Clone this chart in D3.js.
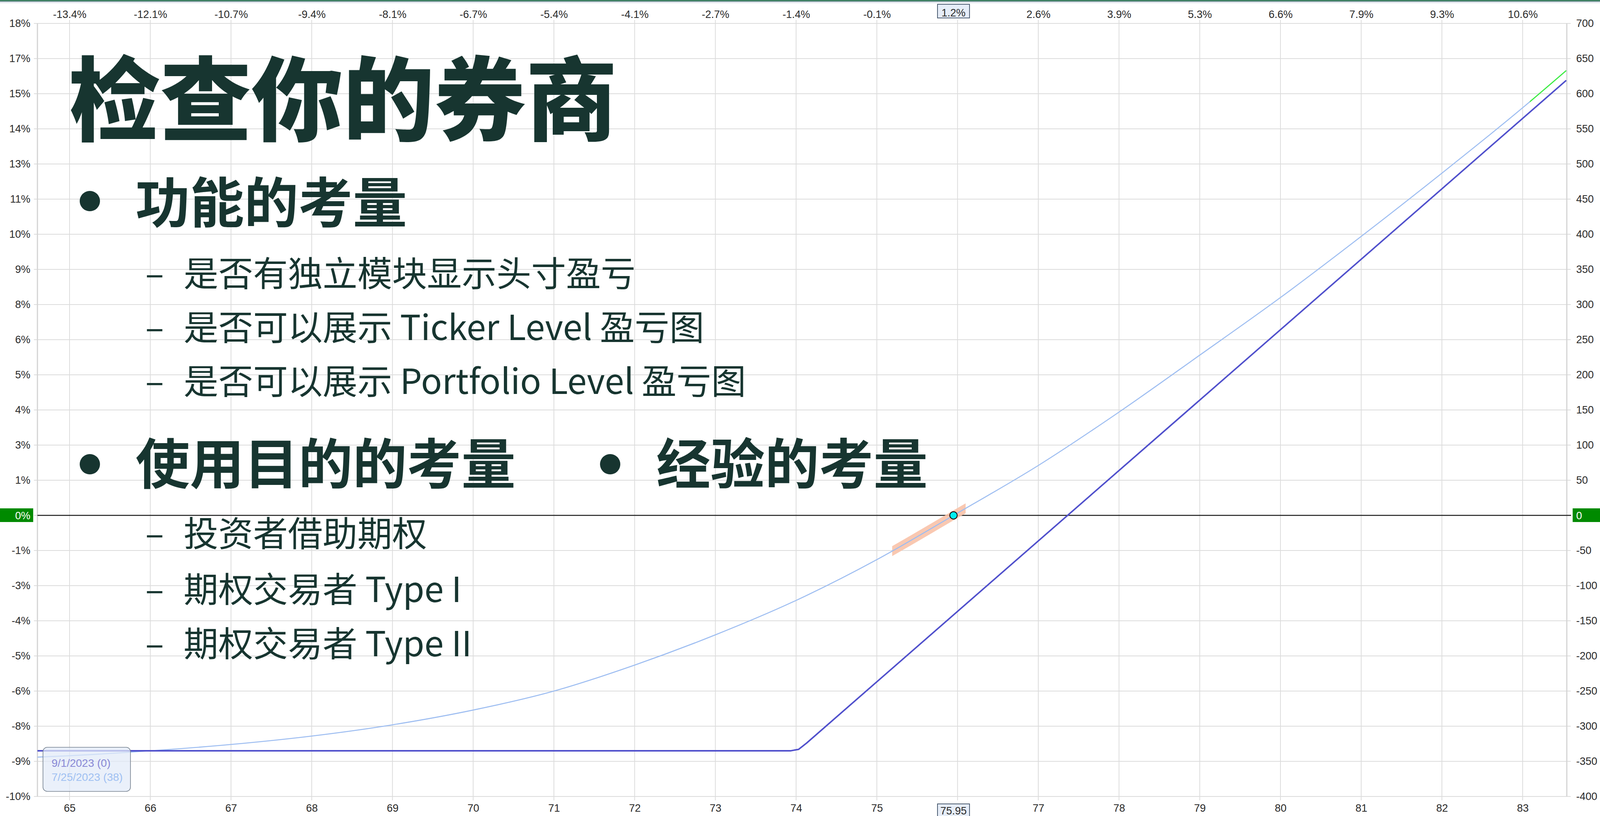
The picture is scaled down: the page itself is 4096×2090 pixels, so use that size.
<!DOCTYPE html>
<html><head><meta charset="utf-8">
<script src="https://cdn.jsdelivr.net/npm/d3@7"></script>
<style>html,body{margin:0;padding:0;background:#fff;overflow:hidden}</style>
</head><body>
<svg id="c" width="4096" height="2090"></svg>
<script>
// ---------------- data ----------------
const priceTicks = [65,66,67,68,69,70,71,72,73,74,75,76,77,78,79,80,81,82,83];
const pctChangeLabels = ["-13.4%","-12.1%","-10.7%","-9.4%","-8.1%","-6.7%","-5.4%","-4.1%","-2.7%","-1.4%","-0.1%",null,"2.6%","3.9%","5.3%","6.6%","7.9%","9.3%","10.6%"];
const priceLabels = ["65","66","67","68","69","70","71","72","73","74","75",null,"77","78","79","80","81","82","83"];
const pnlTicks = [700,650,600,550,500,450,400,350,300,250,200,150,100,50,0,-50,-100,-150,-200,-250,-300,-350,-400];
const pnlPctLabels = ["18%","17%","15%","14%","13%","11%","10%","9%","8%","6%","5%","4%","3%","1%","0%","-1%","-3%","-4%","-5%","-6%","-8%","-9%","-10%"];
const priceDomain = [64.602, 83.547];
const pnlDomain = [-400, 700];

const expiryX   = [64.6, 73.93, 74.03, 74.13, 83.54];
const expiryPnl = [-335, -335, -333, -324, 619];

const t0X   = [64.6, 65, 66, 67, 68, 69, 70, 71, 72, 73, 74, 75, 75.95, 77, 78, 79, 80, 81, 82, 83, 83.54];
const t0Pnl = [-344, -342, -335, -326, -314, -298, -277, -250, -213, -170, -121, -63, 0, 71, 147, 228, 310, 397, 487, 580, 633];

const greenFromX = 83.09;
const currentPrice = 75.95;
const currentPriceLabel = "75.95";
const currentPctLabel = "1.2%";
const highlightRange = [75.19, 76.10];
const legendLabels = ["9/1/2023 (0)", "7/25/2023 (38)"];

const titleText = "检查你的券商";
const heading1 = "功能的考量";
const sub1 = ["是否有独立模块显示头寸盈亏", "是否可以展示 Ticker Level 盈亏图", "是否可以展示 Portfolio Level 盈亏图"];
const heading2 = "使用目的的考量";
const heading3 = "经验的考量";
const sub2 = ["投资者借助期权", "期权交易者 Type I", "期权交易者 Type II"];

// ---------------- layout ----------------
const W = 4096, H = 2090;
const L = 95.8, R = 4011, T = 60.1, B = 2040;
const svg = d3.select("#c");
const x = d3.scaleLinear().domain(priceDomain).range([L, R]);
const y = d3.scaleLinear().domain(pnlDomain).range([B, T]);
const axisFont = "'Liberation Sans', Arial, sans-serif";
const cjk = "'Noto Sans CJK SC', 'Noto Sans', sans-serif";
const ink = "#173530";

svg.append("rect").attr("width", W).attr("height", H).attr("fill", "#fff");
// top band
svg.append("rect").attr("x",0).attr("y",0).attr("width",W).attr("height",3.6).attr("fill","#3b7e60");
svg.append("rect").attr("x",0).attr("y",3.6).attr("width",W).attr("height",1.8).attr("fill","#97a3b6");
svg.append("rect").attr("x",0).attr("y",5.4).attr("width",W).attr("height",3.6).attr("fill","#eef1f5");

// grid
const grid = svg.append("g");
grid.selectAll("line.h").data(pnlTicks).join("line")
  .attr("x1", L - 9).attr("x2", R + 10)
  .attr("y1", d => y(d)).attr("y2", d => y(d))
  .attr("stroke", "#dcdcdc").attr("stroke-width", 2);
grid.selectAll("line.v").data(priceTicks).join("line")
  .attr("y1", T - 9).attr("y2", B + 10)
  .attr("x1", d => x(d)).attr("x2", d => x(d))
  .attr("stroke", "#dcdcdc").attr("stroke-width", 2);
grid.append("line").attr("x1", L).attr("x2", L).attr("y1", T).attr("y2", B).attr("stroke","#d4d4d4").attr("stroke-width",3);
grid.append("line").attr("x1", R).attr("x2", R).attr("y1", T).attr("y2", B).attr("stroke","#d4d4d4").attr("stroke-width",3);

// axes labels via d3 axes
const leftAxis = d3.axisLeft(y).tickValues(pnlTicks.filter(d => d !== 0))
  .tickFormat(d => pnlPctLabels[pnlTicks.indexOf(d)]).tickSize(0).tickPadding(0);
const gL = svg.append("g").attr("transform", `translate(${L - 18},0)`).call(leftAxis);
const rightAxis = d3.axisRight(y).tickValues(pnlTicks.filter(d => d !== 0))
  .tickFormat(d => String(d)).tickSize(0).tickPadding(0);
const gR = svg.append("g").attr("transform", `translate(${R + 24},0)`).call(rightAxis);
const topAxis = d3.axisTop(x).tickValues(priceTicks.filter((d,i) => pctChangeLabels[i] !== null))
  .tickFormat(d => pctChangeLabels[priceTicks.indexOf(d)]).tickSize(0).tickPadding(0);
const gT = svg.append("g").attr("transform", `translate(0,46)`).call(topAxis);
const botAxis = d3.axisBottom(x).tickValues(priceTicks.filter((d,i) => priceLabels[i] !== null))
  .tickFormat(d => priceLabels[priceTicks.indexOf(d)]).tickSize(0).tickPadding(0);
const gB = svg.append("g").attr("transform", `translate(0,2059)`).call(botAxis);
[gL, gR, gT, gB].forEach(g => {
  g.select(".domain").remove();
  g.selectAll("text").attr("font-family", axisFont).attr("font-size", 27).attr("fill", "#2a2a2a");
});
gT.selectAll("text").attr("dy", 0);
gB.selectAll("text").attr("dy", "0.75em");

// zero line + green badges
svg.append("line").attr("x1", L).attr("x2", R + 11).attr("y1", y(0)).attr("y2", y(0))
  .attr("stroke", "#1a1a1a").attr("stroke-width", 2.5);
svg.append("rect").attr("x", 0).attr("y", y(0) - 18).attr("width", 85).attr("height", 35).attr("fill", "#008a00");
svg.append("text").attr("x", L - 18).attr("y", y(0)).attr("dy", "0.36em").attr("text-anchor", "end")
  .attr("font-family", axisFont).attr("font-size", 27).attr("fill", "#fff").text(pnlPctLabels[pnlTicks.indexOf(0)]);
svg.append("rect").attr("x", R + 15).attr("y", y(0) - 18).attr("width", W - R - 15).attr("height", 35).attr("fill", "#008a00");
svg.append("text").attr("x", R + 24).attr("y", y(0)).attr("dy", "0.36em")
  .attr("font-family", axisFont).attr("font-size", 27).attr("fill", "#fff").text("0");

// curves
const defs = svg.append("defs");
defs.append("clipPath").attr("id", "plot").append("rect").attr("x", L).attr("y", T).attr("width", R - L).attr("height", B - T);
defs.append("clipPath").attr("id", "hl").append("rect")
  .attr("x", x(highlightRange[0])).attr("y", T).attr("width", x(highlightRange[1]) - x(highlightRange[0])).attr("height", B - T);
defs.append("clipPath").attr("id", "gr").append("rect")
  .attr("x", x(greenFromX)).attr("y", T).attr("width", R - x(greenFromX)).attr("height", B - T);

const t0Data = t0X.map((v, i) => [v, t0Pnl[i]]);
const expData = expiryX.map((v, i) => [v, expiryPnl[i]]);
const lineT0 = d3.line().x(d => x(d[0])).y(d => y(d[1])).curve(d3.curveMonotoneX);
const lineExp = d3.line().x(d => x(d[0])).y(d => y(d[1])).curve(d3.curveLinear);

const plot = svg.append("g").attr("clip-path", "url(#plot)");
plot.append("path").datum(t0Data).attr("d", lineT0).attr("clip-path", "url(#hl)")
  .attr("fill", "none").attr("stroke", "#f8c2a8").attr("stroke-opacity", 0.9).attr("stroke-width", 22);
plot.append("path").datum(t0Data).attr("d", lineT0)
  .attr("fill", "none").attr("stroke", "#9dbdf1").attr("stroke-width", 2.6);
plot.append("path").datum(t0Data).attr("d", lineT0).attr("clip-path", "url(#gr)")
  .attr("fill", "none").attr("stroke", "#3cf03c").attr("stroke-width", 2.8);
plot.append("path").datum(expData).attr("d", lineExp)
  .attr("fill", "none").attr("stroke", "#5050cc").attr("stroke-width", 3.8).attr("stroke-linejoin", "round");

svg.append("circle").attr("cx", x(currentPrice)).attr("cy", y(0)).attr("r", 9.5)
  .attr("fill", "#00eef0").attr("stroke", "#111").attr("stroke-width", 2.2);

// current price badges
const bw = 82;
svg.append("rect").attr("x", x(currentPrice) - bw/2).attr("y", 11).attr("width", bw).attr("height", 35)
  .attr("fill", "#e6edf8").attr("stroke", "#4d5d72").attr("stroke-width", 2);
svg.append("text").attr("x", x(currentPrice)).attr("y", 42).attr("text-anchor", "middle")
  .attr("font-family", axisFont).attr("font-size", 27).attr("fill", "#2a2a2a").text(currentPctLabel);
svg.append("rect").attr("x", x(currentPrice) - bw/2).attr("y", 2059).attr("width", bw).attr("height", 40)
  .attr("fill", "#e6edf8").attr("stroke", "#4d5d72").attr("stroke-width", 2);
svg.append("text").attr("x", x(currentPrice)).attr("y", 2086).attr("text-anchor", "middle")
  .attr("font-family", axisFont).attr("font-size", 27).attr("fill", "#2a2a2a").text(currentPriceLabel);

// legend box
svg.append("rect").attr("x", 110).attr("y", 1914).attr("width", 224).attr("height", 113).attr("rx", 11)
  .attr("fill", "#e2eaf8").attr("fill-opacity", 0.72).attr("stroke", "#74808e").attr("stroke-width", 1.6);
svg.append("text").attr("x", 132).attr("y", 1964).attr("font-family", axisFont).attr("font-size", 28)
  .attr("fill", "#8888d6").text(legendLabels[0]);
svg.append("text").attr("x", 132).attr("y", 2000).attr("font-family", axisFont).attr("font-size", 28)
  .attr("fill", "#9fc0f2").text(legendLabels[1]);

// slide text
const txt = svg.append("g").attr("font-family", cjk).attr("fill", ink);
txt.append("text").attr("x", 176).attr("y", 342).attr("font-size", 234).attr("font-weight", 900).text(titleText);
function bullet(cx, cy) { txt.append("circle").attr("cx", cx).attr("cy", cy).attr("r", 26).attr("fill", ink); }
bullet(230, 515);
txt.append("text").attr("x", 347).attr("y", 570).attr("font-size", 139).attr("font-weight", 700).text(heading1);
const subY1 = [733, 871, 1009];
sub1.forEach((s, i) => {
  txt.append("text").attr("x", 372).attr("y", subY1[i]).attr("font-size", 89).text("–");
  txt.append("text").attr("x", 470).attr("y", subY1[i]).attr("font-size", 89).text(s);
});
bullet(230, 1189);
txt.append("text").attr("x", 347).attr("y", 1239).attr("font-size", 139).attr("font-weight", 700).text(heading2);
bullet(1562, 1189);
txt.append("text").attr("x", 1680).attr("y", 1239).attr("font-size", 139).attr("font-weight", 700).text(heading3);
const subY2 = [1399, 1542, 1681];
sub2.forEach((s, i) => {
  txt.append("text").attr("x", 372).attr("y", subY2[i]).attr("font-size", 89).text("–");
  txt.append("text").attr("x", 470).attr("y", subY2[i]).attr("font-size", 89).text(s);
});
</script>
</body></html>
